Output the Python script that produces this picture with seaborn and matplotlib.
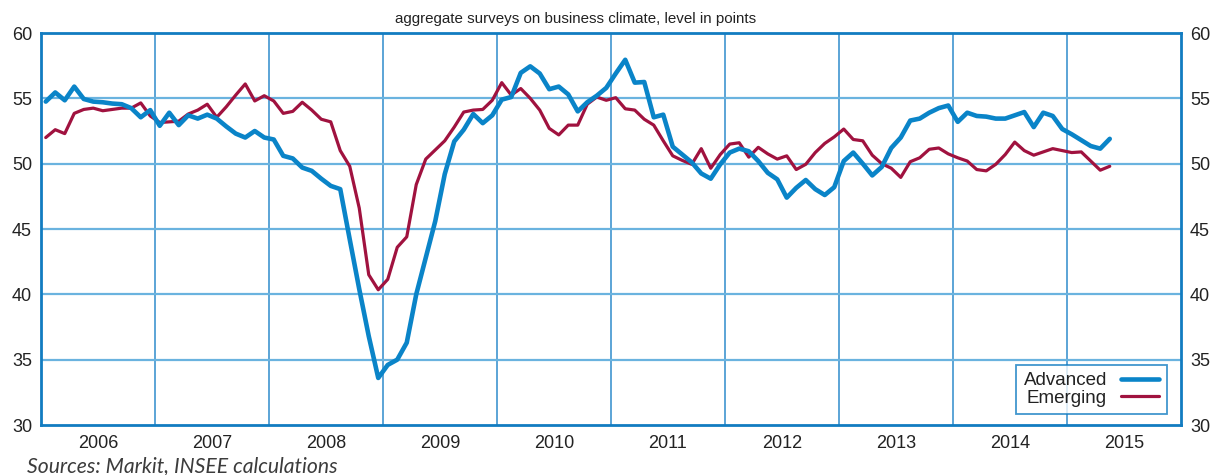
import numpy as np
import pandas as pd
import matplotlib
matplotlib.use("Agg")
import matplotlib.pyplot as plt
import seaborn as sns

# ---- data (monthly, Jan 2006 - May 2015) ----
advanced = [
    54.75, 55.45, 54.85, 55.9, 54.95, 54.75, 54.7, 54.6, 54.55, 54.25, 53.55, 54.1,
    52.9, 53.9, 52.95, 53.7, 53.45, 53.75, 53.45, 52.85, 52.3, 52.0, 52.5, 52.0,
    51.85, 50.6, 50.4, 49.7, 49.45, 48.85, 48.3, 48.05, 44.2, 40.4, 36.8, 33.6,
    34.6, 35.0, 36.3, 40.0, 42.8, 45.6, 49.2, 51.7, 52.6, 53.8, 53.1, 53.7,
    54.9, 55.1, 56.95, 57.45, 56.9, 55.7, 55.9, 55.3, 54.0, 54.7, 55.2, 55.8,
    56.9, 57.95, 56.2, 56.25, 53.55, 53.75, 51.3, 50.7, 50.1, 49.25, 48.85, 49.95,
    50.85, 51.15, 50.95, 50.2, 49.3, 48.8, 47.4, 48.15, 48.75, 48.05, 47.6, 48.2,
    50.2, 50.85, 50.0, 49.1, 49.75, 51.2, 52.0, 53.3, 53.45, 53.9, 54.25, 54.45,
    53.2, 53.9, 53.65, 53.6, 53.45, 53.45, 53.7, 53.95, 52.8, 53.9, 53.65, 52.65,
    52.25, 51.8, 51.35, 51.15, 51.9,
]
emerging = [
    52.0, 52.6, 52.3, 53.85, 54.15, 54.25, 54.05, 54.15, 54.25, 54.25, 54.65, 53.65,
    53.15, 53.2, 53.25, 53.8, 54.1, 54.55, 53.55, 54.35, 55.25, 56.1, 54.8, 55.2,
    54.8, 53.85, 54.0, 54.7, 54.1, 53.4, 53.2, 51.0, 49.8, 46.6, 41.5, 40.35,
    41.15, 43.6, 44.4, 48.4, 50.35, 51.05, 51.75, 52.8, 53.95, 54.1, 54.15, 54.85,
    56.2, 55.25, 55.75, 55.0, 54.1, 52.7, 52.2, 52.95, 52.95, 54.55, 55.1, 54.85,
    55.05, 54.2, 54.1, 53.4, 52.95, 51.75, 50.6, 50.25, 49.95, 51.15, 49.65, 50.7,
    51.5, 51.6, 50.5, 51.25, 50.75, 50.35, 50.6, 49.55, 49.95, 50.85, 51.55, 52.05,
    52.65, 51.85, 51.75, 50.65, 50.0, 49.65, 48.95, 50.15, 50.45, 51.1, 51.2, 50.75,
    50.45, 50.2, 49.55, 49.45, 49.95, 50.7, 51.65, 51.0, 50.65, 50.9, 51.15, 51.0,
    50.85, 50.9, 50.2, 49.5, 49.8,
]
series_names = ["Advanced", "Emerging"]
years = list(range(2006, 2016))
year_labels = [str(y) for y in years]
y_ticks = [30, 35, 40, 45, 50, 55, 60]

start_year = 2006
n = len(advanced)
x_pos = [start_year + (i + 0.5) / 12 for i in range(n)]

df = pd.DataFrame({
    "x": x_pos * 2,
    "value": advanced + emerging,
    "series": [series_names[0]] * n + [series_names[1]] * n,
})

# ---- styling ----
sns.set_theme(style="white")
plt.rcParams["font.family"] = ["Liberation Sans", "DejaVu Sans"]

BLUE_FRAME = "#127CC1"
GRID_H = "#6AB3DF"
GRID_V = "#2F8BCB"
C_ADV = "#0A84C8"
C_EME = "#A0123F"
TXT = "#222222"

fig = plt.figure(figsize=(12.12, 4.75), dpi=100)
ax = fig.add_axes([41 / 1212, 1 - 425 / 475, (1181 - 41) / 1212, (425 - 33) / 475])

sns.lineplot(data=df[df.series == series_names[0]], x="x", y="value", color=C_ADV,
             linewidth=3.3, ax=ax, label=series_names[0], zorder=4)
sns.lineplot(data=df[df.series == series_names[1]], x="x", y="value", color=C_EME,
             linewidth=2.3, ax=ax, label=series_names[1], zorder=3)

ax.set_xlim(2006, 2016)
ax.set_ylim(30, 60)
ax.set_xlabel("")
ax.set_ylabel("")

# year boundaries and centred year labels
ax.set_xticks(list(range(2006, 2017)))
ax.set_xticklabels([])
ax.set_xticks([y + 0.5 for y in years], minor=True)
ax.set_xticklabels(year_labels, minor=True)
for yv in range(2007, 2016):
    ax.axvline(yv, color=GRID_V, linewidth=1.1, zorder=1)
for yh in y_ticks[1:-1]:
    ax.axhline(yh, color=GRID_H, linewidth=1.6, zorder=1)
ax.grid(False)

ax.set_yticks(y_ticks)
ax.tick_params(axis="both", which="both", length=0, labelsize=13, colors=TXT)
ax.tick_params(axis="y", labelright=True, pad=6.5)
ax.tick_params(axis="x", which="minor", pad=7)

for s in ax.spines.values():
    s.set_visible(True)
    s.set_color(BLUE_FRAME)
    s.set_linewidth(2.0)

leg = ax.legend(loc="lower right", bbox_to_anchor=(0.9877, 0.028), markerfirst=False,
                frameon=True, fancybox=False, fontsize=13.5, handlelength=2.05,
                handletextpad=0.75, borderpad=0.4, labelspacing=0.0,
                borderaxespad=0.0)
leg.get_frame().set_edgecolor(BLUE_FRAME)
leg.get_frame().set_linewidth(1.3)
for t in leg.get_texts():
    t.set_color(TXT)

fig.text(576 / 1212, 1 - 19 / 475, "aggregate surveys on business climate, level in points",
         ha="center", va="center", fontsize=10.9, color=TXT)
fig.text(27 / 1212, 1 - 466.5 / 475, "Sources: Markit, INSEE calculations",
         ha="left", va="center", fontsize=15.2, style="italic", color="#3c3c3c",
         family=["Lato", "DejaVu Sans"])

fig.savefig("out.png", dpi=100)
